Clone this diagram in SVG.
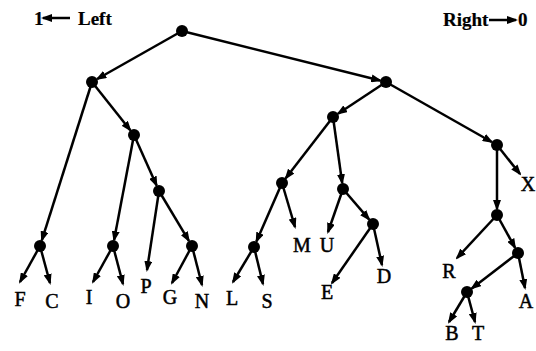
<svg xmlns="http://www.w3.org/2000/svg" width="536" height="351" viewBox="0 0 536 351">
<style>
.e{stroke:#000;stroke-width:2.5;fill:none;marker-end:url(#ah)}
.n{fill:#000}
text{font-family:"Liberation Serif","Times New Roman",serif;font-size:20px;fill:#000;stroke:#000;stroke-width:0.5;text-anchor:middle}
.lg{font-size:19px;font-weight:bold;stroke-width:0.2;text-anchor:start}
</style>
<defs>
<marker id="ah" markerUnits="userSpaceOnUse" markerWidth="11" markerHeight="8" refX="9" refY="4" orient="auto">
<path d="M0,0 L11,4 L0,8 z" fill="#000"/>
</marker>
</defs>
<g id="legend">
<text class="lg" x="34" y="25">1</text>
<line class="e" x1="70" y1="18" x2="43" y2="18"/>
<text class="lg" x="78" y="25">Left</text>
<text class="lg" x="443" y="26">Right</text>
<line class="e" x1="489" y1="20" x2="516" y2="20"/>
<text class="lg" x="518" y="26">0</text>
</g>
<g id="edges">
<line class="e" x1="182" y1="31" x2="97.2" y2="79"/>
<line class="e" x1="182" y1="31" x2="380.2" y2="80.5"/>
<line class="e" x1="92" y1="82" x2="41.8" y2="240.3"/>
<line class="e" x1="92" y1="82" x2="130.3" y2="130.3"/>
<line class="e" x1="134" y1="135" x2="114.1" y2="240.1"/>
<line class="e" x1="134" y1="135" x2="156.6" y2="185.5"/>
<line class="e" x1="159" y1="191" x2="147" y2="270"/>
<line class="e" x1="159" y1="191" x2="188.9" y2="240.9"/>
<line class="e" x1="40" y1="246" x2="20" y2="282"/>
<line class="e" x1="40" y1="246" x2="50" y2="283"/>
<line class="e" x1="113" y1="246" x2="93" y2="282"/>
<line class="e" x1="113" y1="246" x2="123" y2="284"/>
<line class="e" x1="192" y1="246" x2="172" y2="283"/>
<line class="e" x1="192" y1="246" x2="202" y2="285"/>
<line class="e" x1="386" y1="82" x2="338" y2="113.7"/>
<line class="e" x1="386" y1="82" x2="491.8" y2="142"/>
<line class="e" x1="333" y1="117" x2="285.7" y2="178.3"/>
<line class="e" x1="333" y1="117" x2="342.2" y2="183.1"/>
<line class="e" x1="282" y1="183" x2="256.4" y2="241.5"/>
<line class="e" x1="282" y1="183" x2="295" y2="227"/>
<line class="e" x1="254" y1="247" x2="233" y2="282"/>
<line class="e" x1="254" y1="247" x2="263" y2="284"/>
<line class="e" x1="343" y1="189" x2="328" y2="232"/>
<line class="e" x1="343" y1="189" x2="369.1" y2="219.4"/>
<line class="e" x1="373" y1="224" x2="332" y2="283"/>
<line class="e" x1="373" y1="224" x2="382" y2="265"/>
<line class="e" x1="497" y1="145" x2="520" y2="174"/>
<line class="e" x1="497" y1="145" x2="497" y2="209"/>
<line class="e" x1="497" y1="215" x2="457" y2="258"/>
<line class="e" x1="497" y1="215" x2="515.1" y2="247.8"/>
<line class="e" x1="518" y1="253" x2="471.8" y2="288.4"/>
<line class="e" x1="518" y1="253" x2="525" y2="288"/>
<line class="e" x1="467" y1="292" x2="449" y2="322"/>
<line class="e" x1="467" y1="292" x2="475" y2="322"/>
</g>
<g id="n-root"><circle class="n" cx="182" cy="31" r="6"/></g>
<g id="n-l"><circle class="n" cx="92" cy="82" r="6"/></g>
<g id="n-lr"><circle class="n" cx="134" cy="135" r="6"/></g>
<g id="n-lrr"><circle class="n" cx="159" cy="191" r="6"/></g>
<g id="n-fc"><circle class="n" cx="40" cy="246" r="6"/></g>
<g id="n-io"><circle class="n" cx="113" cy="246" r="6"/></g>
<g id="n-gn"><circle class="n" cx="192" cy="246" r="6"/></g>
<g id="n-r"><circle class="n" cx="386" cy="82" r="6"/></g>
<g id="n-rl"><circle class="n" cx="333" cy="117" r="6"/></g>
<g id="n-rll"><circle class="n" cx="282" cy="183" r="6"/></g>
<g id="n-ls"><circle class="n" cx="254" cy="247" r="6"/></g>
<g id="n-rlr"><circle class="n" cx="343" cy="189" r="6"/></g>
<g id="n-ed"><circle class="n" cx="373" cy="224" r="6"/></g>
<g id="n-rr"><circle class="n" cx="497" cy="145" r="6"/></g>
<g id="n-rrl"><circle class="n" cx="497" cy="215" r="6"/></g>
<g id="n-rrlr"><circle class="n" cx="518" cy="253" r="6"/></g>
<g id="n-bt"><circle class="n" cx="467" cy="292" r="6"/></g>
<g id="leaves">
<text x="20" y="306">F</text>
<text x="52" y="308">C</text>
<text x="89" y="304">I</text>
<text x="123" y="308">O</text>
<text x="146" y="293">P</text>
<text x="170" y="304">G</text>
<text x="202" y="308">N</text>
<text x="232" y="305">L</text>
<text x="267" y="308">S</text>
<text x="302" y="252">M</text>
<text x="327" y="252">U</text>
<text x="327" y="299">E</text>
<text x="384" y="283">D</text>
<text x="528" y="191">X</text>
<text x="449" y="278">R</text>
<text x="526" y="308">A</text>
<text x="452" y="340">B</text>
<text x="478" y="340">T</text>
</g>
</svg>
